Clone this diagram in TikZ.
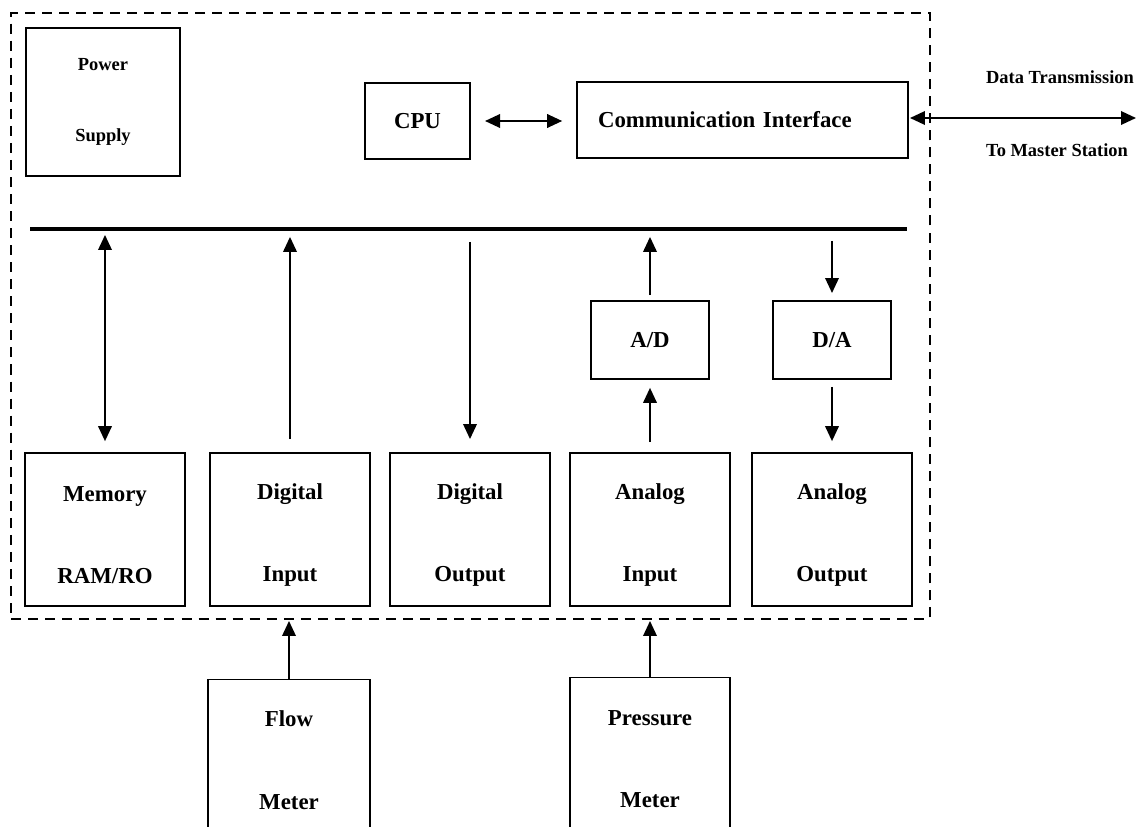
\documentclass[tikz,border=0pt]{standalone}
\usepackage{fontspec}
\setmainfont{Liberation Serif}
\usetikzlibrary{arrows.meta, positioning}

\tikzset{
    blk/.style={draw, line width=1.1pt, inner sep=0pt, align=center, font=\bfseries\fontsize{13}{15}\selectfont},
    iob/.style={blk, minimum width=3.2cm, minimum height=3.06cm},
    txt/.style={blk, draw=none},
    frm/.style={draw, line width=1.1pt, dash pattern=on 5.7pt off 4pt, inner sep=0pt},
    sml/.style={align=center, inner sep=0pt, font=\bfseries\fontsize{10.5}{12}\selectfont},
    lnk/.style={line width=1.1pt, >={Triangle[length=0.3cm, width=0.27cm]}}
}

\begin{document}
\begin{tikzpicture}[x=0.02cm, y=-0.02cm]
                    \useasboundingbox (0, 0) rectangle (1136, 827);
                    \clip (0, 0) rectangle (1136, 827);

                    % RTU frame
                    \node[frm, minimum width=18.38cm, minimum height=12.12cm] (sys) at (470.5, 316) {};

                    \node[blk, sml, draw, minimum width=3.08cm, minimum height=2.96cm] (psu) at (103, 102) {Power\\[28pt]Supply};
                    \node[blk, minimum width=2.1cm, minimum height=1.52cm] (cpu) at (417.5, 121) {CPU};
                    \node[blk, minimum width=6.62cm, minimum height=1.52cm, text width=5.78cm, inner xsep=0.42cm, align=left] (comm) at (742.5, 120) {Communication Interface};

                    \node[sml] (dtx) at (1060, 77) {Data Transmission};
                    \node[sml] (dms) at (1057, 150) {To Master Station};
                    \coordinate (dt) at (1136, 118);

                    % bus
                    \coordinate (busl) at (30, 229);
                    \coordinate (busr) at (907, 229);
                    \coordinate (bus) at (468, 229);

                    \node[blk, minimum width=2.36cm, minimum height=1.56cm] (ad) at (650, 340) {A/D};
                    \node[blk, minimum width=2.36cm, minimum height=1.56cm] (da) at (832, 340) {D/A};

                    \node[iob] (mem) at (105, 529.5) {};
                    \node[iob] (din) at (290, 529.5) {};
                    \node[iob] (dout) at (470, 529.5) {};
                    \node[iob] (ain) at (650, 529.5) {};
                    \node[iob] (aout) at (832, 529.5) {};
                    \node[txt] (memt) at (105, 535) {Memory\\[32pt]RAM/RO};
                    \node[txt] (dint) at (290, 535) {Digital\\[32pt]Input};
                    \node[txt] (doutt) at (470, 535) {Digital\\[32pt]Output};
                    \node[txt] (aint) at (650, 535) {Analog\\[32pt]Input};
                    \node[txt] (aoutt) at (832, 535) {Analog\\[32pt]Output};

                    % field devices, cut off at the bottom
                    \node[blk, minimum width=3.24cm, minimum height=4.1cm] (flow) at (289, 782) {};
                    \node[blk, minimum width=3.2cm, minimum height=4.1cm] (press) at (650, 780) {};
                    \node[txt] (flowt) at (289, 760) {Flow\\[32pt]Meter};
                    \node[txt] (presst) at (650, 759) {Pressure\\[32pt]Meter};

                    \draw[line width=2.3pt] (busl) -- (busr);

                    \draw[lnk, <->, shorten <=8pt, shorten >=7.9pt] (cpu.east) -- (cpu.east -| comm.west);
                    \draw[lnk, <->, shorten <=0.6pt] (comm.east |- dt) -- (dt);

                    \draw[lnk, <->, shorten <=3.4pt, shorten >=6.2pt] (mem.north |- bus) -- (mem.north);
                    \draw[lnk, ->, shorten <=7.4pt, shorten >=4.5pt] (din.north) -- (din.north |- bus);
                    \draw[lnk, ->, shorten <=7.4pt, shorten >=7.4pt] (dout.north |- bus) -- (dout.north);
                    \draw[lnk, ->, shorten <=2.8pt, shorten >=4.5pt] (ad.north) -- (ad.north |- bus);
                    \draw[lnk, ->, shorten <=6.8pt, shorten >=4pt] (da.north |- bus) -- (da.north);
                    \draw[lnk, ->, shorten <=5.7pt, shorten >=4.5pt] (ain.north) -- (ad.south);
                    \draw[lnk, ->, shorten <=4pt, shorten >=6.2pt] (da.south) -- (aout.north);

                    \draw[lnk, ->, shorten >=0.6pt] (flow.north) -- (flow.north |- sys.south);
                    \draw[lnk, ->, shorten >=0.6pt] (press.north) -- (press.north |- sys.south);
                \end{tikzpicture}
\end{document}
